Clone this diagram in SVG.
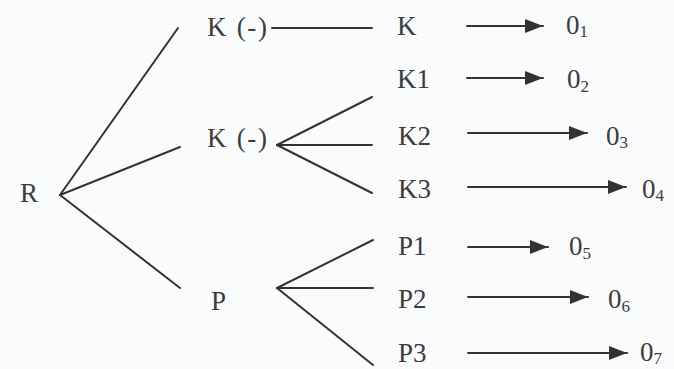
<svg xmlns="http://www.w3.org/2000/svg" width="674" height="369" viewBox="0 0 674 369">
<defs>
<style>
text{font-family:"Liberation Serif","Times New Roman",Times,serif;font-size:27px;fill:#3c3c3c}
.sub{font-size:17px}
.ln{stroke:#333;stroke-width:2;fill:none;stroke-linecap:round}
</style>
<marker id="ah" viewBox="0 0 18 14" refX="18" refY="7" markerWidth="18" markerHeight="14" markerUnits="userSpaceOnUse" orient="auto">
<path d="M0,0 L18,7 L0,14 Z" fill="#333"/>
</marker>
</defs>
<rect width="674" height="369" fill="#fafbfc"/>
<g id="connectors">
<line class="ln" x1="60" y1="195" x2="178" y2="28"/>
<line class="ln" x1="60" y1="195" x2="180" y2="147"/>
<line class="ln" x1="60" y1="195" x2="180" y2="288"/>
<line class="ln" x1="272" y1="28" x2="372" y2="28"/>
<line class="ln" x1="277" y1="145" x2="372" y2="97"/>
<line class="ln" x1="277" y1="145" x2="372" y2="145"/>
<line class="ln" x1="277" y1="145" x2="372" y2="193"/>
<line class="ln" x1="277" y1="288" x2="373" y2="240"/>
<line class="ln" x1="277" y1="288" x2="373" y2="288"/>
<line class="ln" x1="277" y1="288" x2="373" y2="365"/>
<line class="ln" x1="467" y1="26" x2="543" y2="26" marker-end="url(#ah)"/>
<line class="ln" x1="467" y1="78" x2="543" y2="78" marker-end="url(#ah)"/>
<line class="ln" x1="468" y1="133" x2="587" y2="133" marker-end="url(#ah)"/>
<line class="ln" x1="468" y1="187" x2="626" y2="187" marker-end="url(#ah)"/>
<line class="ln" x1="468" y1="247" x2="548" y2="247" marker-end="url(#ah)"/>
<line class="ln" x1="468" y1="297" x2="588" y2="297" marker-end="url(#ah)"/>
<line class="ln" x1="468" y1="353" x2="627" y2="353" marker-end="url(#ah)"/>
</g>
<g id="R"><text x="20" y="202">R</text></g>
<g id="Ka"><text x="207" y="36" textLength="60" lengthAdjust="spacing">K (-)</text></g>
<g id="Kb"><text x="207" y="147" textLength="60" lengthAdjust="spacing">K (-)</text></g>
<g id="P"><text x="211" y="310">P</text></g>
<g id="K"><text x="397" y="35">K</text></g>
<g id="K1"><text x="397" y="88">K1</text></g>
<g id="K2"><text x="398" y="145">K2</text></g>
<g id="K3"><text x="398" y="198">K3</text></g>
<g id="P1"><text x="398" y="255">P1</text></g>
<g id="P2"><text x="398" y="308">P2</text></g>
<g id="P3"><text x="398" y="362">P3</text></g>
<g id="O1"><text x="566" y="34">0<tspan class="sub" dy="3">1</tspan></text></g>
<g id="O2"><text x="567" y="88">0<tspan class="sub" dy="4">2</tspan></text></g>
<g id="O3"><text x="606" y="145">0<tspan class="sub" dy="3">3</tspan></text></g>
<g id="O4"><text x="642" y="198">0<tspan class="sub" dy="3">4</tspan></text></g>
<g id="O5"><text x="569" y="255">0<tspan class="sub" dy="4">5</tspan></text></g>
<g id="O6"><text x="608" y="308">0<tspan class="sub" dy="4">6</tspan></text></g>
<g id="O7"><text x="640" y="361">0<tspan class="sub" dy="3">7</tspan></text></g>
</svg>
